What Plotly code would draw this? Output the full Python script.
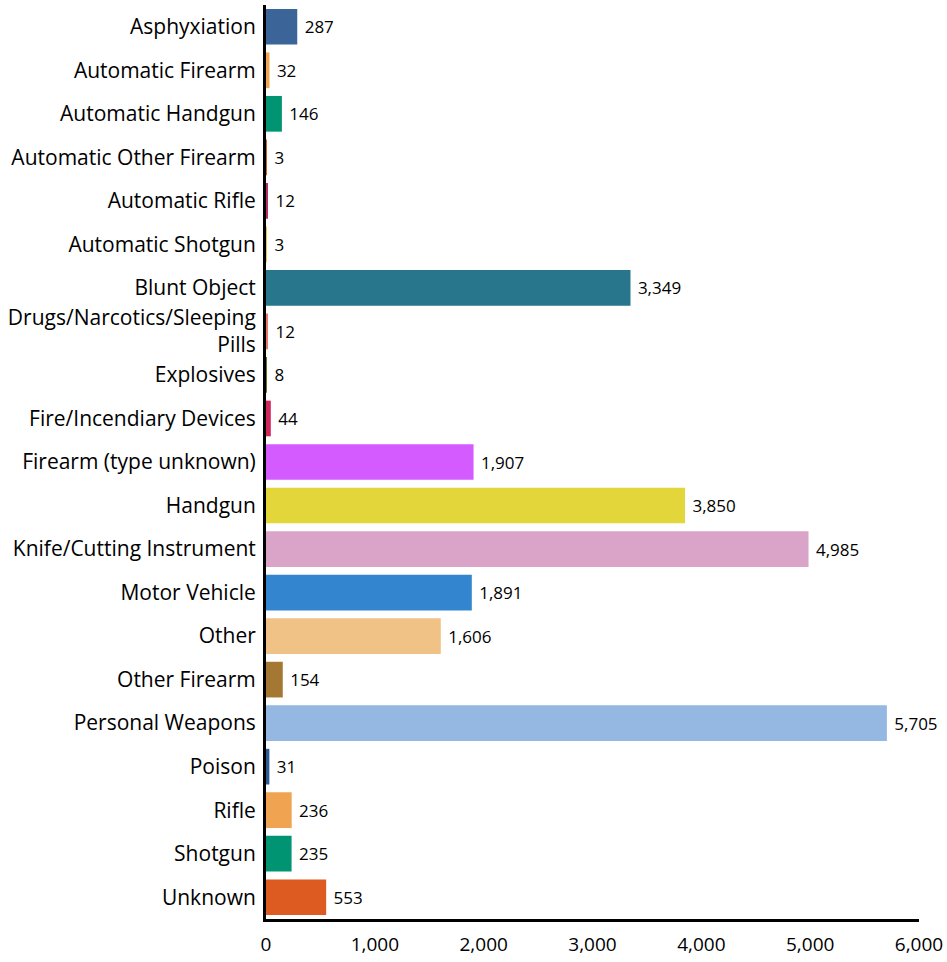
import plotly.graph_objects as go

categories = [
    "Asphyxiation", "Automatic Firearm", "Automatic Handgun", "Automatic Other Firearm",
    "Automatic Rifle", "Automatic Shotgun", "Blunt Object", "Drugs/Narcotics/Sleeping<br>Pills",
    "Explosives", "Fire/Incendiary Devices", "Firearm (type unknown)", "Handgun",
    "Knife/Cutting Instrument", "Motor Vehicle", "Other", "Other Firearm",
    "Personal Weapons", "Poison", "Rifle", "Shotgun", "Unknown",
]
values = [287, 32, 146, 3, 12, 3, 3349, 12, 8, 44, 1907, 3850, 4985, 1891, 1606, 154,
          5705, 31, 236, 235, 553]
colors = [
    "#3b6499", "#f0a550", "#009473", "#c7622a", "#b5306b", "#e5c84a", "#27768b",
    "#e8796a", "#5a7a2a", "#d0265a", "#d35bff", "#e3d63b", "#daa3c8", "#3385cf",
    "#f0c285", "#a47733", "#94b8e2", "#2f5b95", "#f0a451", "#009473", "#dd5a20",
]
x_ticks = [0, 1000, 2000, 3000, 4000, 5000, 6000]

FONT = "Open Sans, Noto Sans, sans-serif"

fig = go.Figure(go.Bar(
    x=values, y=categories, orientation="h",
    marker=dict(color=colors, line=dict(width=0)),
    text=["\u00a0" + f"{v:,}" for v in values], textposition="outside",
    textfont=dict(size=17, color="#000000", family=FONT),
    cliponaxis=False, hoverinfo="skip",
))

fig.update_layout(
    width=947, height=962,
    margin=dict(l=266, r=28, t=5, b=43, autoexpand=False),
    plot_bgcolor="white", paper_bgcolor="white",
    bargap=0.18, showlegend=False,
    font=dict(family=FONT, color="#000000"),
)
fig.update_xaxes(
    range=[0, 6000], tickvals=x_ticks, tickformat=",", showgrid=False, zeroline=False,
    showline=True, linecolor="black", linewidth=3, ticks="", automargin=False,
    tickfont=dict(size=19), ticklabelstandoff=6,
)
fig.update_yaxes(
    autorange="reversed", showgrid=False, zeroline=False,
    showline=True, linecolor="black", linewidth=3, ticks="", automargin=False,
    tickfont=dict(size=21), ticklabelstandoff=3,
)

fig.write_html("out.html", config={"displayModeBar": False},
               post_script="document.body.style.margin='0px';")
